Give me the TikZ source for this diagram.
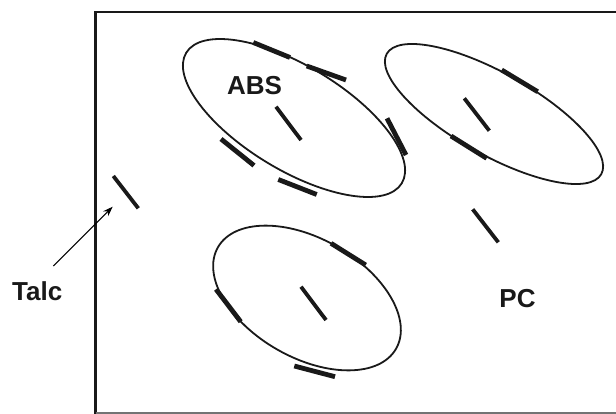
\documentclass[tikz,border=0pt]{standalone}
\usepackage{fontspec}
\setmainfont{Liberation Sans}
\usetikzlibrary{arrows.meta}
\begin{document}
\begin{tikzpicture}[x=1pt,y=-1pt,
  frame/.style={line width=2.5pt,draw=black!90},
  particle/.style={line width=1.8pt,draw=black!90},
  bar/.style={line width=4.8pt,draw=black!90},
  flake/.style={line width=3.8pt,draw=black!90},
  lbl/.style={inner sep=0pt,font=\fontsize{26}{31}\selectfont\bfseries,text=black!90}]
\useasboundingbox (0,0) rectangle (616,414);
% frame
\coordinate (fl) at (95.5,414);
\coordinate (ftl) at (95.5,12);
\coordinate (ftr) at (616,12);
\draw[frame] (fl) -- (ftl) -- (ftr);
\coordinate (fbl) at (95.5,413);
\coordinate (fbr) at (616,413);
\draw[line width=1.6pt,draw=black!55] (fbl) -- (fbr);
% ABS particles
\draw[particle] (294,118) ellipse [x radius=126, y radius=52, rotate=-31.2];
\draw[particle] (494,114) ellipse [x radius=123, y radius=41, rotate=-29.3];
\draw[particle] (307,298) ellipse [x radius=102.5, y radius=59.5, rotate=-29.6];
% bars on ellipse 1
\draw[bar] (253.3,42.5) -- (290,57.5);
\draw[bar] (306.7,66) -- (346,80);
\draw[bar] (387,118.3) -- (406,155);
\draw[bar] (221,139) -- (254,165.5);
\draw[bar] (278.3,179.5) -- (316.7,194.5);
% bars on ellipse 2
\draw[bar] (501.7,70) -- (537.7,91.7);
\draw[bar] (451,136) -- (486.7,158.3);
% bars on ellipse 3
\draw[bar] (331,243.3) -- (365.7,265);
\draw[bar] (216,289.3) -- (240.7,321.7);
\draw[bar] (294.3,366) -- (335,376.7);
% flakes
\draw[flake] (276,106.7) -- (301,140);
\draw[flake] (464.3,98.3) -- (489.3,130.7);
\draw[flake] (301,286.7) -- (326,320);
\draw[flake] (472.7,209.3) -- (498.3,242.3);
\draw[flake] (113.3,176) -- (138.3,208.3);
% labels
\node[lbl] (abs) at (254.5,85.3) {ABS};
\node[lbl] (pc) at (517.5,299) {PC};
\node[lbl] (talc) at (37.2,291.7) {Talc};
\coordinate (talcstart) at (53.3,266);
\coordinate (talctip) at (112.7,206.7);
\draw[line width=1pt,-{Stealth[length=10pt,width=7pt]}] (talcstart) -- (talctip);
\end{tikzpicture}
\end{document}
